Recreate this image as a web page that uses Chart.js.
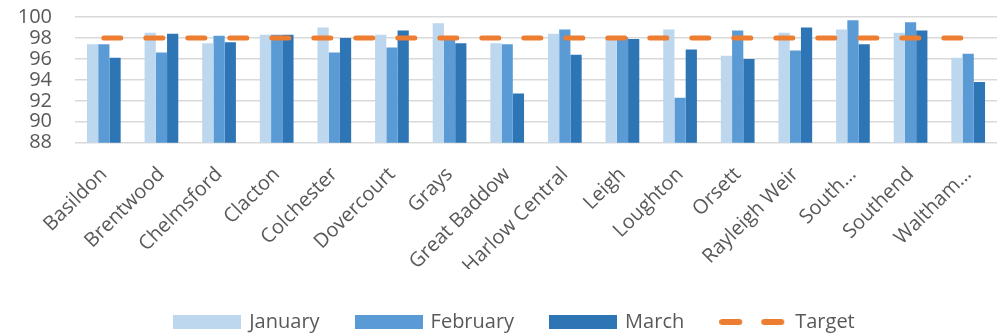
<!DOCTYPE html>
<html>
<head>
<meta charset="utf-8">
<script src="https://cdn.jsdelivr.net/npm/chart.js@4/dist/chart.umd.min.js"></script>
<style>
  html, body { margin: 0; padding: 0; background: #ffffff; }
  #wrap { width: 1001px; height: 336px; position: relative; }
</style>
</head>
<body>
<div id="wrap"><canvas id="c"></canvas></div>
<script>
const categories = ['Basildon','Brentwood','Chelmsford','Clacton','Colchester','Dovercourt','Grays','Great Baddow','Harlow Central','Leigh','Loughton','Orsett','Rayleigh Weir','South…','Southend','Waltham…'];
const january  = [97.4, 98.5, 97.5, 98.3, 99.0, 98.3, 99.4, 97.5, 98.4, 98.1, 98.8, 96.3, 98.5, 98.8, 98.5, 96.1];
const february = [97.4, 96.6, 98.2, 98.3, 96.6, 97.1, 98.1, 97.4, 98.8, 98.1, 92.3, 98.7, 96.8, 99.7, 99.5, 96.5];
const march    = [96.1, 98.4, 97.6, 98.3, 98.0, 98.7, 97.5, 92.7, 96.4, 97.9, 96.9, 96.0, 99.0, 97.4, 98.7, 93.8];
const target   = [98, 98, 98, 98, 98, 98, 98, 98, 98, 98, 98, 98, 98, 98, 98, 98];
const yTicks   = [88, 90, 92, 94, 96, 98, 100];

const FONT = '"Open Sans", "Noto Sans", sans-serif';
const TEXT = '#595959';
const colors = { jan: '#BDD7EE', feb: '#5B9BD5', mar: '#2E75B6', target: '#ED7D31' };

function boxImg(color) {
  const c = document.createElement('canvas');
  c.width = 68; c.height = 14;
  const g = c.getContext('2d');
  g.fillStyle = color; g.fillRect(0, 0, 68, 14);
  return c;
}
function dashImg(color) {
  const c = document.createElement('canvas');
  c.width = 68; c.height = 8;
  const g = c.getContext('2d');
  g.strokeStyle = color; g.lineWidth = 6; g.lineCap = 'round';
  g.beginPath(); g.moveTo(3, 4); g.lineTo(20, 4); g.moveTo(45, 4); g.lineTo(62, 4); g.stroke();
  return c;
}

const legendShift = {
  id: 'legendShift',
  afterLayout(chart) {
    const lg = chart.legend;
    if (!lg) return;
    const h = lg.height;
    lg.left = 33;
    lg.top = 275;
    lg.bottom = 275 + h;
  }
};

new Chart(document.getElementById('c'), {
  type: 'bar',
  data: {
    labels: categories,
    datasets: [
      { label: 'January', data: january, backgroundColor: colors.jan, order: 1, legendImg: boxImg(colors.jan) },
      { label: 'February', data: february, backgroundColor: colors.feb, order: 1, legendImg: boxImg(colors.feb) },
      { label: 'March', data: march, backgroundColor: colors.mar, order: 1, legendImg: boxImg(colors.mar) },
      { type: 'line', label: 'Target', data: target, borderColor: colors.target, backgroundColor: colors.target,
        borderWidth: 5, borderDash: [17, 25], borderCapStyle: 'round', pointRadius: 0, tension: 0, fill: false, order: 0,
        legendImg: dashImg(colors.target) }
    ]
  },
  options: {
    responsive: true,
    maintainAspectRatio: false,
    animation: false,
    devicePixelRatio: 1,
    layout: { padding: { top: 17, right: 4, left: 0, bottom: 0 } },
    datasets: { bar: { categoryPercentage: 0.585, barPercentage: 1.0, borderWidth: 0 } },
    scales: {
      x: {
        grid: { display: false },
        border: { display: false },
        ticks: { color: TEXT, font: { family: FONT, size: 20 }, minRotation: 45, maxRotation: 45, autoSkip: false, padding: 12 },
        afterFit(scale) { scale.height = 126.3; }
      },
      y: {
        min: 88, max: 100,
        afterBuildTicks(scale) { scale.ticks = yTicks.map(v => ({ value: v })); },
        grid: { color: '#D9D9D9', lineWidth: 1.5, drawTicks: false },
        border: { display: false },
        ticks: { color: TEXT, font: { family: FONT, size: 20 }, padding: 23, autoSkip: false },
        afterFit(scale) { scale.width = 75; scale.paddingTop = 0; scale.paddingBottom = 0; }
      }
    },
    plugins: {
      tooltip: { enabled: false },
      legend: {
        position: 'bottom',
        labels: {
          usePointStyle: true,
          pointStyleWidth: 64,
          padding: 37,
          color: TEXT,
          font: { family: FONT, size: 20 },
          generateLabels(chart) {
            return chart.data.datasets.map((ds, i) => ({
              text: ds.label,
              pointStyle: ds.legendImg,
              fillStyle: ds.backgroundColor,
              strokeStyle: 'rgba(0,0,0,0)',
              lineWidth: 0,
              fontColor: TEXT,
              hidden: !chart.isDatasetVisible(i),
              datasetIndex: i
            }));
          }
        }
      }
    }
  },
  plugins: [legendShift]
});
</script>
</body>
</html>
